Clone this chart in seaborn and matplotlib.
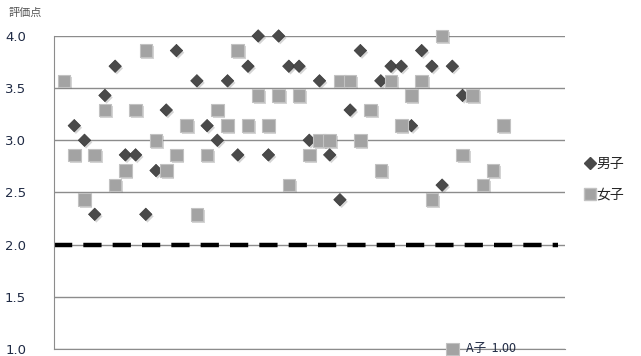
import numpy as np
import pandas as pd
import seaborn as sns
import matplotlib.pyplot as plt
from matplotlib.lines import Line2D
import matplotlib.patheffects as pe

# 評価点 (男子 / 女子); NaN = 見えない点
boys_x = list(range(1, 41))
boys_score = [np.nan, 3.14, 3.00, 2.29, 3.43, 3.71, 2.86, 2.86, 2.29, 2.71,
              3.29, 3.86, np.nan, 3.57, 3.14, 3.00, 3.57, 2.86, 3.71, 4.00,
              2.86, 4.00, 3.71, 3.71, 3.00, 3.57, 2.86, 2.43, 3.29, 3.86,
              np.nan, 3.57, 3.71, 3.71, 3.14, 3.86, 3.71, 2.57, 3.71, 3.43]
girls_x = list(range(1, 45))
girls_score = [3.57, 2.86, 2.43, 2.86, 3.29, 2.57, 2.71, 3.29, 3.86, 3.00,
               2.71, 2.86, 3.14, 2.29, 2.86, 3.29, 3.14, 3.86, 3.14, 3.43,
               3.14, 3.43, 2.57, 3.43, 2.86, 3.00, 3.00, 3.57, 3.57, 3.00,
               3.29, 2.71, 3.57, 3.14, 3.43, 3.57, 2.43, 4.00, 1.00, 2.86,
               3.43, 2.57, 2.71, 3.14]
a_index = 39          # A子
line_x = [0, 49.3]    # 基準線
line_y = [2.0, 2.0]

sns.set_style("white")
plt.rcParams['font.family'] = ['Noto Sans CJK JP', 'DejaVu Sans']

boys = pd.DataFrame({"x": boys_x, "score": boys_score}).dropna()
girls = pd.DataFrame({"x": girls_x, "score": girls_score})

fig = plt.figure(figsize=(6.41, 3.56), dpi=100)
ax = fig.add_axes([0.084, 0.020, 0.797, 0.879])

ax.set_ylim(1.0, 4.0)
ax.set_xlim(0, 50)
ax.set_yticks(np.arange(1.0, 4.01, 0.5))
ax.yaxis.grid(True, color="#8c8c8c", linewidth=1.0)
ax.set_axisbelow(True)
for s in ["top", "right"]:
    ax.spines[s].set_visible(False)
ax.spines["left"].set_color("#8c8c8c")
ax.spines["bottom"].set_color("#8c8c8c")
ax.set_xticks([])
ax.tick_params(axis="y", length=0, pad=20, labelsize=9.5, labelcolor="#1f2a44")
ax.set_yticklabels([f"{v:.1f}" for v in np.arange(1.0, 4.01, 0.5)],
                   family="DejaVu Sans")

ax.plot(line_x, line_y, color="black", linewidth=3.2, dashes=(4.1, 2.5),
        solid_capstyle="butt", dash_capstyle="butt", zorder=2)

shadow = [pe.SimplePatchShadow(offset=(1.2, -1.5), alpha=0.3, shadow_rgbFace="#777777"), pe.Normal()]
sns.scatterplot(data=boys, x="x", y="score", marker="D", s=40,
                color="#4a4a4a", edgecolor="#3a3a3a", linewidth=0.5,
                ax=ax, zorder=3, clip_on=False)
sns.scatterplot(data=girls, x="x", y="score", marker="s", s=82,
                color="#a3a3a3", edgecolor="#c2c2c2", linewidth=0.8,
                ax=ax, zorder=4, clip_on=False)
for coll in ax.collections:
    coll.set_path_effects(shadow)

ax.set_xlabel("")
ax.set_ylabel("")

ax.annotate(f"A子  {girls_score[a_index - 1]:.2f}",
            xy=(girls_x[a_index - 1], girls_score[a_index - 1]),
            xytext=(10, 0), textcoords="offset points", va="center",
            fontsize=9, color="#1f2a44", annotation_clip=False)

fig.text(0.013, 0.963, "評価点", fontsize=8, color="#555555", va="center")

handles = [Line2D([], [], marker="D", linestyle="none", color="#4a4a4a",
                  markersize=6, label="男子"),
           Line2D([], [], marker="s", linestyle="none", color="#a3a3a3",
                  markeredgecolor="#c2c2c2", markersize=8, label="女子")]
fig.legend(handles=handles, loc="center left", bbox_to_anchor=(0.905, 0.497),
           frameon=False, fontsize=10, handlelength=0.6, handletextpad=0.2,
           labelspacing=1.2, borderaxespad=0)

fig.savefig("out.png", dpi=100)
